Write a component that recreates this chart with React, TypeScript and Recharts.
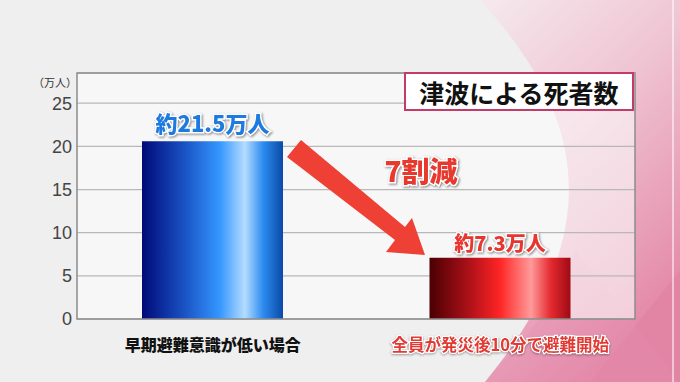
import { BarChart, Bar, XAxis, YAxis, CartesianGrid, Cell, LabelList } from 'recharts';

const categories = ['早期避難意識が低い場合', '全員が発災後10分で避難開始'];
const deaths = [20.6, 7.1];
const valueLabels = ['約21.5万人', '約7.3万人'];
const yTicks = [0, 5, 10, 15, 20, 25];

const rows = categories.map((name, i) => ({ name, value: deaths[i], label: valueLabels[i] }));

const JP = '"Noto Sans CJK JP", "Noto Sans", sans-serif';
const barFills = ['url(#blueBar)', 'url(#redBar)'];
const labelColors = ['#1f7ae0', '#e8352f'];
const labelSizes = [22, 20];
const labelLift = [19, 15];
const tickColors = ['#111111', '#e23a33'];

const BarLabel = (props: any) => {
  const { x, y, width, index, value } = props;
  return (
    <text
      x={x + width / 2}
      y={y - labelLift[index]}
      textAnchor="middle"
      dominantBaseline="central"
      fontFamily={JP}
      fontWeight={900}
      fontSize={labelSizes[index]}
      fill={labelColors[index]}
      stroke="#ffffff"
      strokeWidth={3}
      paintOrder="stroke"
      style={{ filter: 'drop-shadow(1px 1.5px 1px rgba(0,0,0,0.45))' }}
    >
      {value}
    </text>
  );
};

const XTick = (props: any) => {
  const { x, y, payload, index } = props;
  const red = index === 1;
  return (
    <text
      x={x}
      y={y + 17}
      textAnchor="middle"
      dominantBaseline="central"
      fontFamily={JP}
      fontWeight={red ? 700 : 900}
      fontSize={red ? 16.5 : 16}
      fill={tickColors[index]}
      stroke={red ? '#ffffff' : 'none'}
      strokeWidth={red ? 2.5 : 0}
      paintOrder="stroke"
      style={red ? { filter: 'drop-shadow(0.5px 1px 0.8px rgba(0,0,0,0.35))' } : undefined}
    >
      {payload.value}
    </text>
  );
};

const Background = () => (
  <svg width={680} height={382} style={{ position: 'absolute', left: 0, top: 0 }}>
    <defs>
      <linearGradient id="pinkBg" x1="0" y1="0" x2="0.5" y2="1">
        <stop offset="0" stopColor="#f5eaee" />
        <stop offset="0.45" stopColor="#efc4d3" />
        <stop offset="1" stopColor="#e48aa9" />
      </linearGradient>
    </defs>
    <rect width={680} height={382} fill="#efefef" />
    <path d="M480 0 C 590 120, 605 235, 485 382 L680 382 L680 0 Z" fill="url(#pinkBg)" />
    <path d="M590 382 L680 270 L680 382 Z" fill="#e07a9e" opacity={0.35} />
    <path d="M485 382 C 540 320, 560 300, 575 250 L680 382 Z" fill="#e68fae" opacity={0.3} />
    <line x1={673} y1={0} x2={673} y2={382} stroke="#ffffff" strokeOpacity={0.7} strokeWidth={1.5} />
  </svg>
);

const Overlay = () => (
  <svg width={680} height={382} style={{ position: 'absolute', left: 0, top: 0, pointerEvents: 'none' }}>
    <rect x={77} y={73} width={558} height={246} fill="none" stroke="#8c8c8c" strokeWidth={1.5} />
    <text x={77} y={82} textAnchor="end" dominantBaseline="central" fontFamily={JP} fontSize={11} fill="#333">
      （万人）
    </text>
    <polygon
      points="301,140 405,227 412,218 425,255 386,252 395,240 287,157"
      fill="#ee4034"
    />
    <text
      x={421}
      y={170}
      textAnchor="middle"
      dominantBaseline="central"
      fontFamily={JP}
      fontWeight={900}
      fontSize={28}
      fill="#e8392e"
      stroke="#ffffff"
      strokeWidth={3}
      paintOrder="stroke"
      style={{ filter: 'drop-shadow(1px 1.5px 1px rgba(0,0,0,0.45))' }}
    >
      7割減
    </text>
    <rect x={405} y={73} width={228} height={37} fill="#ffffff" stroke="#c23b6a" strokeWidth={2} />
    <text
      x={519}
      y={92}
      textAnchor="middle"
      dominantBaseline="central"
      fontFamily={JP}
      fontWeight={700}
      fontSize={25}
      fill="#111"
    >
      津波による死者数
    </text>
  </svg>
);

export default function App() {
  return (
    <div style={{ position: 'absolute', left: 0, top: 0, width: 680, height: 382, overflow: 'hidden' }}>
      <Background />
      <div style={{ position: 'absolute', left: 0, top: 0 }}>
        <BarChart width={680} height={382} data={rows} margin={{ top: 73, right: 45, bottom: 23, left: 37 }}>
          <defs>
            <linearGradient id="blueBar" x1="0" y1="0" x2="1" y2="0">
              <stop offset="0" stopColor="#000a78" />
              <stop offset="0.3" stopColor="#1a52c4" />
              <stop offset="0.55" stopColor="#3496ff" />
              <stop offset="0.73" stopColor="#b4dcff" />
              <stop offset="0.86" stopColor="#2c8bef" />
              <stop offset="1" stopColor="#0a4aa6" />
            </linearGradient>
            <linearGradient id="redBar" x1="0" y1="0" x2="1" y2="0">
              <stop offset="0" stopColor="#4a0003" />
              <stop offset="0.3" stopColor="#b4121a" />
              <stop offset="0.5" stopColor="#ff2525" />
              <stop offset="0.72" stopColor="#ff9a9a" />
              <stop offset="0.86" stopColor="#e42a30" />
              <stop offset="1" stopColor="#a00a14" />
            </linearGradient>
          </defs>
          <CartesianGrid vertical={false} stroke="#b8b8b8" strokeWidth={1.2} fill="#fbfbfb" fillOpacity={0.6} />
          <XAxis
            dataKey="name"
            axisLine={false}
            tickLine={false}
            interval={0}
            height={40}
            padding={{ left: -8, right: -9 }}
            tick={<XTick />}
          />
          <YAxis
            domain={[0, 28.5]}
            ticks={yTicks}
            axisLine={false}
            tickLine={false}
            tickSize={0}
            tickMargin={5}
            width={40}
            tick={{ fontSize: 18, fill: '#444', fontFamily: '"Liberation Sans", Arial, sans-serif' }}
          />
          <Bar dataKey="value" barSize={141} isAnimationActive={false}>
            {rows.map((_, i) => (
              <Cell key={`bar-${i}`} fill={barFills[i]} />
            ))}
            <LabelList dataKey="label" content={<BarLabel />} />
          </Bar>
        </BarChart>
      </div>
      <Overlay />
    </div>
  );
}
